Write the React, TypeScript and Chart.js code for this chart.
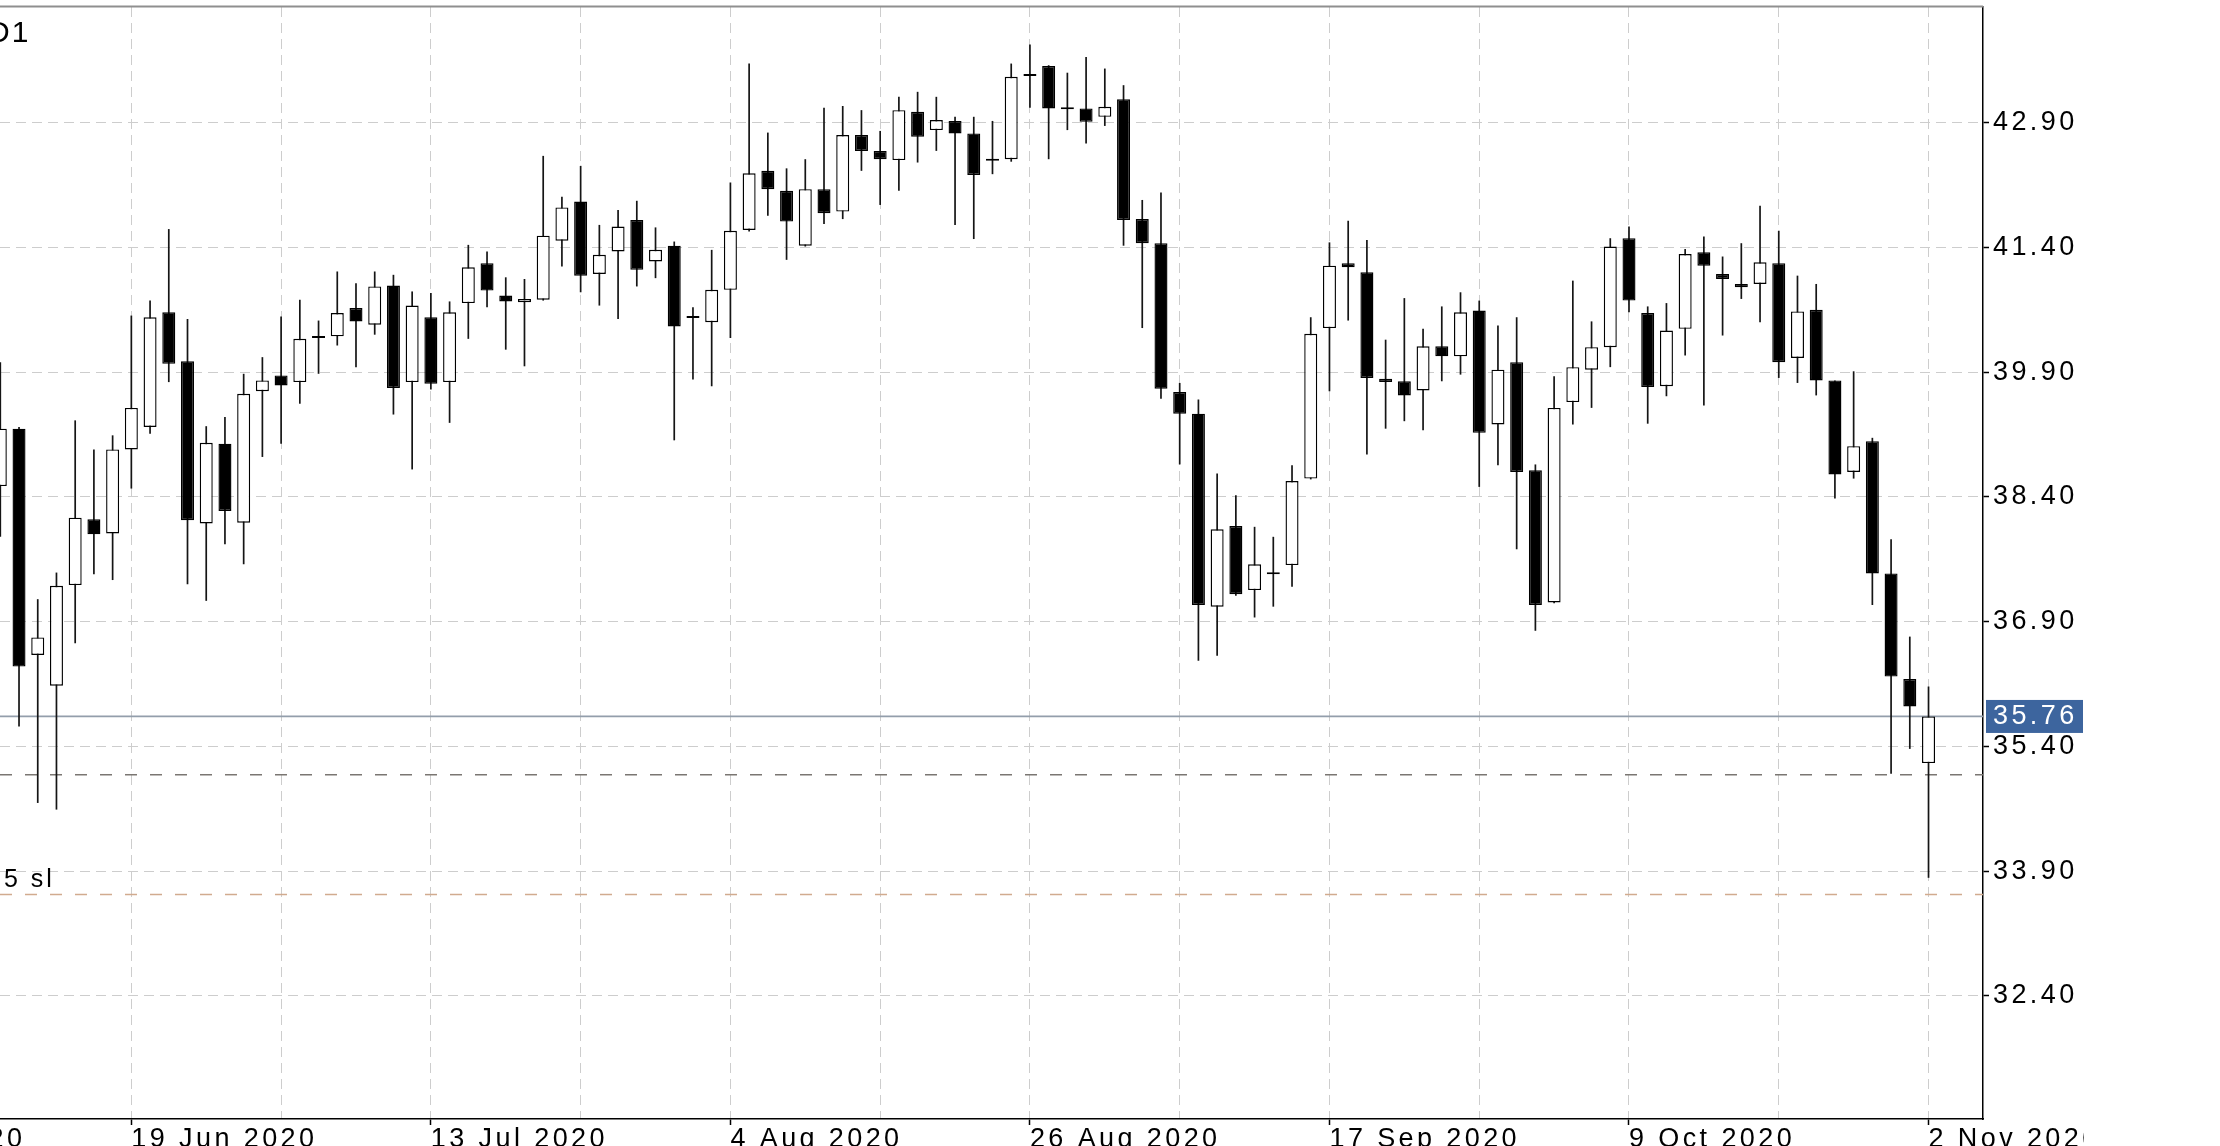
import React, { useEffect, useRef } from 'react';
import { Chart, registerables } from 'chart.js';

Chart.register(...registerables);

// ---- Daily candles (bar index 0 .. 103) ----
const opens = [
  38.53, 39.22, 36.50, 36.13, 37.34, 38.13, 37.96, 38.97, 39.24, 40.62,
  40.03, 38.08, 39.04, 38.09, 39.67, 39.86, 39.78, 40.31, 40.33, 40.67,
  40.47, 40.94, 39.78, 40.56, 39.78, 40.73, 41.21, 40.82, 40.74, 40.77,
  41.48, 41.95, 41.08, 41.35, 41.73, 41.23, 41.42, 40.55, 40.50, 40.89,
  41.61, 42.32, 42.08, 41.42, 42.10, 41.83, 42.75, 42.56, 42.45, 43.03,
  42.81, 42.92, 42.77, 42.44, 42.46, 43.46, 43.58, 43.07, 43.07, 42.97,
  43.18, 41.74, 41.45, 39.66, 39.40, 37.08, 38.05, 37.28, 37.47, 37.58,
  38.62, 40.43, 41.21, 41.10, 39.82, 39.79, 39.68, 40.21, 40.09, 40.64,
  39.27, 40.02, 38.72, 37.13, 39.54, 39.93, 40.20, 41.51, 40.61, 39.73,
  40.42, 41.34, 41.08, 40.96, 40.96, 41.21, 40.07, 40.65, 39.80, 38.70,
  39.07, 37.48, 36.21, 35.20,
];
const highs = [
  40.02, 39.24, 37.17, 37.49, 39.32, 38.97, 39.14, 40.58, 40.76, 41.62,
  40.54, 39.25, 39.36, 39.88, 40.08, 40.57, 40.77, 40.52, 41.11, 40.97,
  41.11, 41.07, 40.87, 40.85, 40.75, 41.43, 41.35, 41.04, 41.02, 42.50,
  42.01, 42.38, 41.67, 41.85, 41.96, 41.64, 41.47, 40.68, 41.37, 42.18,
  43.61, 42.78, 42.35, 42.46, 43.08, 43.10, 43.05, 42.80, 43.21, 43.27,
  43.21, 42.97, 42.97, 42.92, 43.61, 43.84, 43.59, 43.50, 43.69, 43.55,
  43.35, 41.97, 42.06, 39.77, 39.57, 38.68, 38.42, 38.04, 37.92, 38.78,
  40.56, 41.46, 41.72, 41.49, 40.29, 40.79, 40.42, 40.69, 40.86, 40.76,
  40.46, 40.56, 38.79, 39.85, 41.00, 40.51, 41.51, 41.65, 40.69, 40.73,
  41.38, 41.53, 41.29, 41.45, 41.90, 41.60, 41.06, 40.96, 39.80, 39.91,
  39.11, 37.89, 36.72, 36.12,
];
const lows = [
  37.92, 35.64, 34.72, 34.64, 36.64, 37.47, 37.40, 38.50, 39.16, 39.78,
  37.35, 37.15, 37.83, 37.59, 38.88, 39.04, 39.52, 39.88, 40.22, 39.96,
  40.35, 39.39, 38.73, 39.69, 39.29, 40.30, 40.68, 40.17, 39.97, 40.76,
  41.17, 40.86, 40.70, 40.54, 40.93, 41.03, 39.08, 39.81, 39.73, 40.31,
  41.59, 41.78, 41.25, 41.41, 41.68, 41.74, 42.32, 41.91, 42.08, 42.42,
  42.56, 41.67, 41.50, 42.28, 42.43, 43.08, 42.46, 42.81, 42.65, 42.86,
  41.42, 40.43, 39.58, 38.79, 36.43, 36.49, 37.21, 36.95, 37.08, 37.32,
  38.61, 39.67, 40.52, 38.91, 39.22, 39.31, 39.20, 39.79, 39.87, 38.52,
  38.78, 37.77, 36.79, 37.12, 39.27, 39.47, 39.96, 40.62, 39.28, 39.61,
  40.10, 39.50, 40.34, 40.78, 40.50, 39.83, 39.77, 39.62, 38.38, 38.62,
  37.10, 35.07, 35.37, 33.82,
];
const closes = [
  39.22, 36.36, 36.71, 37.33, 38.15, 37.95, 38.97, 39.47, 40.56, 40.00,
  38.12, 39.05, 38.23, 39.64, 39.80, 39.74, 40.30, 40.32, 40.61, 40.51,
  40.93, 39.71, 40.70, 39.76, 40.62, 41.16, 40.88, 40.75, 40.78, 41.54,
  41.88, 41.06, 41.31, 41.65, 41.13, 41.37, 40.45, 40.56, 40.89, 41.60,
  42.29, 42.10, 41.71, 42.10, 41.81, 42.75, 42.56, 42.46, 43.05, 42.73,
  42.93, 42.77, 42.27, 42.45, 43.45, 43.47, 43.07, 43.06, 42.91, 43.09,
  41.73, 41.45, 39.70, 39.40, 37.10, 38.01, 37.23, 37.59, 37.48, 38.59,
  40.36, 41.18, 41.16, 39.83, 39.78, 39.62, 40.21, 40.09, 40.62, 39.17,
  39.93, 38.70, 37.10, 39.47, 39.96, 40.20, 41.41, 40.76, 39.72, 40.40,
  41.32, 41.18, 41.02, 40.92, 41.22, 40.02, 40.63, 39.80, 38.67, 39.01,
  37.48, 36.24, 35.88, 35.76,
];

// ---- Axes ----
const priceTicks = [32.4, 33.9, 35.4, 36.9, 38.4, 39.9, 41.4, 42.9];
const gridBars = [-9, -1, 7, 15, 23, 31, 39, 47, 55, 63, 71, 79, 87, 95, 103];
const dateLabelBars = [-9, 7, 23, 39, 55, 71, 87, 103];
const dateLabels = [
  '28 May 2020', '19 Jun 2020', '13 Jul 2020', '4 Aug 2020',
  '26 Aug 2020', '17 Sep 2020', '9 Oct 2020', '2 Nov 2020',
];
const yMin = 30.92;
const yMax = 44.29;
const xMin = -0.016;
const xMax = 105.91;

// ---- Horizontal levels ----
const currentPrice = 35.76;
const levelPrice = 35.06;
const stopLossPrice = 33.62;
const periodText = 'D1';
const stopLossText = '5 sl';

const FONT = 'Liberation Sans';

export default function App() {
  const ref = useRef<HTMLCanvasElement | null>(null);

  useEffect(() => {
    const canvas = ref.current;
    if (!canvas) return;

    const bodies = opens.map((o, i) => ({ x: i, y: [o, closes[i]] }));
    const bodyColors = opens.map((o, i) => (closes[i] >= o ? '#ffffff' : '#000000'));
    const wicks = lows.map((l, i) => ({ x: i, y: [l, highs[i]] }));

    const labelFor = (v: number) => {
      const k = dateLabelBars.indexOf(v);
      return k >= 0 ? dateLabels[k] : '';
    };

    const decor = {
      id: 'decor',
      beforeDraw(chart: any) {
        const ctx = chart.ctx;
        ctx.save();
        ctx.beginPath();
        ctx.rect(0, 0, 2084, chart.height);
        ctx.clip();
        ctx.letterSpacing = '3.4px';
      },
      afterDraw(chart: any) {
        const ctx = chart.ctx;
        const area = chart.chartArea;
        const y = chart.scales.y;
        // top frame line
        ctx.save();
        ctx.strokeStyle = '#8f8f8f';
        ctx.lineWidth = 2;
        ctx.beginPath();
        ctx.moveTo(0, area.top - 0.5);
        ctx.lineTo(area.right, area.top - 0.5);
        ctx.stroke();
        ctx.restore();

        // current price tag
        const py = y.getPixelForValue(currentPrice);
        ctx.save();
        ctx.fillStyle = '#3d659e';
        ctx.fillRect(area.right + 3, py - 16.5, 97, 33);
        ctx.fillStyle = '#ffffff';
        ctx.font = `27px "${FONT}"`;
        ctx.textBaseline = 'middle';
        ctx.textAlign = 'left';
        ctx.fillText(currentPrice.toFixed(2), area.right + 10, py + 0.5);
        ctx.restore();

        // texts in the plot
        ctx.save();
        ctx.fillStyle = '#000000';
        ctx.textAlign = 'left';
        ctx.textBaseline = 'alphabetic';
        ctx.font = `30px "${FONT}"`;
        ctx.letterSpacing = '2px';
        ctx.fillText(periodText, -12, 42);
        ctx.font = `25px "${FONT}"`;
        ctx.letterSpacing = '3px';
        ctx.fillText(stopLossText, 4, y.getPixelForValue(stopLossPrice) - 7);
        ctx.restore();

        ctx.restore();
      },
    };

    const chart = new Chart(canvas, {
      type: 'bar',
      data: {
        datasets: [
          {
            type: 'bar',
            data: bodies as any,
            backgroundColor: bodyColors,
            borderColor: '#000000',
            borderWidth: 1.4,
            borderSkipped: false,
            minBarLength: 2,
            barThickness: 13,
            grouped: false,
            inflateAmount: 0,
            order: 0,
          } as any,
          {
            type: 'bar',
            data: wicks as any,
            backgroundColor: '#151515',
            borderWidth: 0,
            barThickness: 1.7,
            grouped: false,
            inflateAmount: 0,
            order: 1,
          } as any,
          {
            type: 'line',
            data: [{ x: xMin, y: currentPrice }, { x: xMax, y: currentPrice }],
            borderColor: '#939eab',
            borderWidth: 1.8,
            pointRadius: 0,
            order: 2,
          } as any,
          {
            type: 'line',
            data: [{ x: xMin, y: levelPrice }, { x: xMax, y: levelPrice }],
            borderColor: '#7a7672',
            borderWidth: 1.5,
            borderDash: [12, 13],
            pointRadius: 0,
            order: 3,
          } as any,
          {
            type: 'line',
            data: [{ x: xMin, y: stopLossPrice }, { x: xMax, y: stopLossPrice }],
            borderColor: '#d1ab8f',
            borderWidth: 1.5,
            borderDash: [12, 13],
            pointRadius: 0,
            order: 4,
          } as any,
        ],
      },
      options: {
        animation: false,
        responsive: false,
        maintainAspectRatio: false,
        devicePixelRatio: 1,
        events: [],
        layout: { padding: { top: 7, left: 0, right: 0, bottom: 0 } },
        plugins: {
          legend: { display: false },
          tooltip: { enabled: false },
          title: { display: false },
        },
        scales: {
          x: {
            type: 'linear',
            position: 'bottom',
            min: xMin,
            max: xMax,
            offset: false,
            afterBuildTicks: (scale: any) => {
              scale.ticks = gridBars.map((v) => ({ value: v }));
            },
            afterFit: (scale: any) => {
              scale.height = 27;
              scale.paddingLeft = 0;
              scale.paddingRight = 0;
            },
            grid: {
              offset: false,
              color: '#cdcdcd',
              lineWidth: 1,
              drawTicks: true,
              tickLength: 6,
              tickWidth: 1.5,
              tickColor: (c: any) => (c.tick && labelFor(c.tick.value) ? '#000000' : 'rgba(0,0,0,0)'),
            },
            border: { display: true, color: '#000000', width: 1.5, dash: [10, 6] },
            ticks: {
              autoSkip: false,
              maxRotation: 0,
              minRotation: 0,
              align: 'start',
              padding: -2,
              color: '#000000',
              font: { family: FONT, size: 27 },
              callback: (v: any) => labelFor(Number(v)),
            },
          } as any,
          y: {
            type: 'linear',
            position: 'right',
            min: yMin,
            max: yMax,
            afterBuildTicks: (scale: any) => {
              scale.ticks = priceTicks.map((v) => ({ value: v }));
            },
            afterFit: (scale: any) => {
              scale.width = 237;
              scale.paddingTop = 0;
              scale.paddingBottom = 0;
            },
            grid: {
              color: '#cdcdcd',
              lineWidth: 1,
              drawTicks: true,
              tickLength: 6,
              tickWidth: 1.5,
              tickColor: '#000000',
            },
            border: { display: true, color: '#000000', width: 1.5, dash: [10, 6] },
            ticks: {
              autoSkip: false,
              padding: 4,
              color: '#000000',
              font: { family: FONT, size: 27 },
              callback: (v: any) => Number(v).toFixed(2),
            },
          } as any,
        },
      } as any,
      plugins: [decor],
    });

    return () => {
      chart.destroy();
    };
  }, []);

  return (
    <div style={{ position: 'fixed', left: 0, top: 0, width: 2220, height: 1146, background: '#ffffff', overflow: 'hidden' }}>
      <canvas ref={ref} width={2220} height={1146} style={{ display: 'block', width: 2220, height: 1146 }} />
    </div>
  );
}
